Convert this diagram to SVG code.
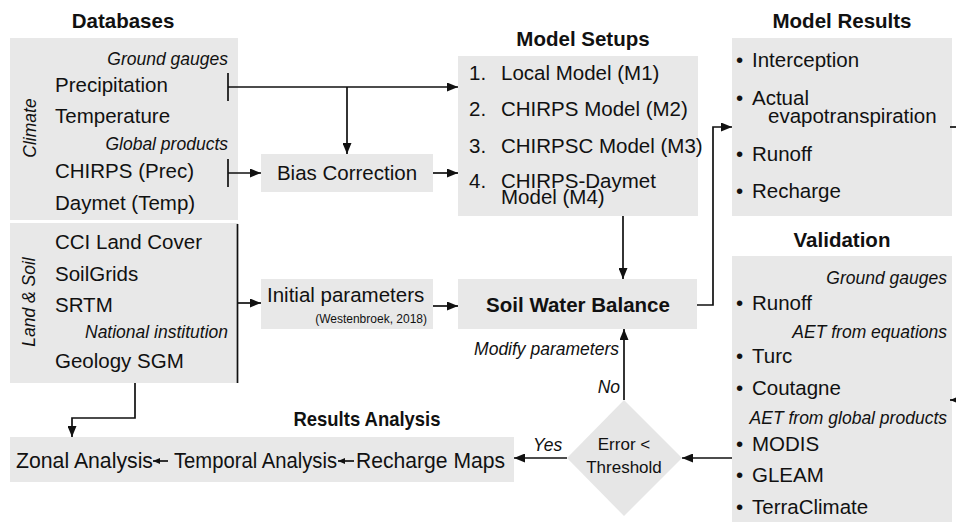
<svg xmlns="http://www.w3.org/2000/svg" width="956" height="524" viewBox="0 0 956 524">
<defs>
<marker id="ah" markerUnits="userSpaceOnUse" markerWidth="11" markerHeight="9" refX="11" refY="4.5" orient="auto"><path d="M0,0 L11,4.5 L0,9 z" fill="#111"/></marker>
<marker id="ahs" markerUnits="userSpaceOnUse" markerWidth="7" markerHeight="6" refX="7" refY="3" orient="auto"><path d="M0,0 L7,3 L0,6 z" fill="#111"/></marker>
<style>
.box{fill:#e8e8e8}
.t{font-family:"Liberation Sans",Arial,sans-serif;font-size:20.5px;fill:#111}
.i{font-family:"Liberation Sans",Arial,sans-serif;font-size:17.5px;font-style:italic;fill:#111}
.h{font-family:"Liberation Sans",Arial,sans-serif;font-size:20.5px;font-weight:bold;fill:#111}
.c{stroke:#111;stroke-width:1.7;fill:none}
.m{text-anchor:middle}
.e{text-anchor:end}
</style>
</defs>

<g id="databases">
<text class="h m" x="123" y="28">Databases</text>
</g>
<g id="climate">
<rect class="box" x="10" y="38" width="228" height="182"/>
<text class="i m" transform="translate(36,128) rotate(-90)">Climate</text>
<text class="i e" x="228" y="65">Ground gauges</text>
<text class="t" x="55" y="92">Precipitation</text>
<text class="t" x="55" y="123">Temperature</text>
<text class="i e" x="228" y="150">Global products</text>
<text class="t" x="55" y="178">CHIRPS (Prec)</text>
<text class="t" x="55" y="210">Daymet (Temp)</text>
</g>
<g id="landsoil">
<rect class="box" x="10" y="223" width="228" height="160"/>
<text class="i m" transform="translate(35,302) rotate(-90)">Land &amp; Soil</text>
<text class="t" x="55" y="249">CCI Land Cover</text>
<text class="t" x="55" y="281">SoilGrids</text>
<text class="t" x="55" y="312">SRTM</text>
<text class="i e" x="228" y="338">National institution</text>
<text class="t" x="55" y="368">Geology SGM</text>
</g>
<g id="bias">
<rect class="box" x="261" y="154" width="172" height="38"/>
<text class="t m" x="347" y="180">Bias Correction</text>
</g>
<g id="initial">
<rect class="box" x="261" y="279" width="172" height="50"/>
<text class="t" x="267" y="302">Initial parameters</text>
<text class="e" x="427" y="323" style="font-family:'Liberation Sans',Arial,sans-serif;font-size:12px;fill:#111">(Westenbroek, 2018)</text>
</g>
<g id="setups">
<text class="h m" x="583" y="46">Model Setups</text>
<rect class="box" x="458" y="56" width="240" height="160"/>
<text class="t" x="469" y="80">1.</text><text class="t" x="501" y="80">Local Model (M1)</text>
<text class="t" x="469" y="116">2.</text><text class="t" x="501" y="116">CHIRPS Model (M2)</text>
<text class="t" x="469" y="153">3.</text><text class="t" x="501" y="153">CHIRPSC Model (M3)</text>
<text class="t" x="469" y="188">4.</text><text class="t" x="501" y="188">CHIRPS-Daymet</text>
<text class="t" x="501" y="204">Model (M4)</text>
</g>
<g id="swb">
<rect class="box" x="458" y="279" width="239" height="50"/>
<text class="h m" x="578" y="312">Soil Water Balance</text>
</g>
<g id="results">
<text class="h m" x="842" y="28">Model Results</text>
<rect class="box" x="732" y="38" width="220" height="178"/>
<text class="t" x="736" y="67">•</text><text class="t" x="752" y="67">Interception</text>
<text class="t" x="736" y="105">•</text><text class="t" x="752" y="105">Actual</text>
<text class="t" x="768" y="123">evapotranspiration</text>
<text class="t" x="736" y="161">•</text><text class="t" x="752" y="161">Runoff</text>
<text class="t" x="736" y="198">•</text><text class="t" x="752" y="198">Recharge</text>
</g>
<g id="validation">
<text class="h m" x="842" y="247">Validation</text>
<rect class="box" x="732" y="256" width="220" height="266"/>
<text class="i e" x="947" y="284">Ground gauges</text>
<text class="t" x="736" y="310">•</text><text class="t" x="752" y="310">Runoff</text>
<text class="i e" x="947" y="338">AET from equations</text>
<text class="t" x="736" y="363">•</text><text class="t" x="752" y="363">Turc</text>
<text class="t" x="736" y="395">•</text><text class="t" x="752" y="395">Coutagne</text>
<text class="i e" x="947" y="424">AET from global products</text>
<text class="t" x="736" y="451">•</text><text class="t" x="752" y="451">MODIS</text>
<text class="t" x="736" y="482">•</text><text class="t" x="752" y="482">GLEAM</text>
<text class="t" x="736" y="514">•</text><text class="t" x="752" y="514">TerraClimate</text>
</g>
<g id="decision">
<polygon points="624,400 682,458 624,516 567,458" fill="#e6e6e6"/>
<text class="m" x="624" y="450" style="font-family:'Liberation Sans',Arial,sans-serif;font-size:17px;fill:#111">Error &lt;</text>
<text class="m" x="624" y="473" style="font-family:'Liberation Sans',Arial,sans-serif;font-size:17px;fill:#111">Threshold</text>
</g>
<g id="analysis">
<text class="h m" x="367" y="426" style="font-size:21px" textLength="147" lengthAdjust="spacingAndGlyphs">Results Analysis</text>
<rect class="box" x="10" y="437" width="504" height="45"/>
<text class="t" x="16" y="468" style="font-size:22px" textLength="137" lengthAdjust="spacingAndGlyphs">Zonal Analysis</text>
<text class="t" x="174" y="468" style="font-size:22px" textLength="163" lengthAdjust="spacingAndGlyphs">Temporal Analysis</text>
<text class="t" x="356" y="468" style="font-size:22px" textLength="149" lengthAdjust="spacingAndGlyphs">Recharge Maps</text>
</g>

<g id="connectors">
<line class="c" x1="228" y1="73" x2="228" y2="101"/>
<line class="c" x1="228" y1="87" x2="458" y2="87" marker-end="url(#ah)"/>
<line class="c" x1="347" y1="87" x2="347" y2="154" marker-end="url(#ah)"/>
<line class="c" x1="228" y1="159" x2="228" y2="187"/>
<line class="c" x1="228" y1="173" x2="261" y2="173" marker-end="url(#ah)"/>
<line class="c" x1="433" y1="173" x2="458" y2="173" marker-end="url(#ah)"/>
<line class="c" x1="237.5" y1="224" x2="237.5" y2="383"/>
<line class="c" x1="238" y1="303" x2="261" y2="303" marker-end="url(#ah)"/>
<line class="c" x1="433" y1="306" x2="458" y2="306" marker-end="url(#ah)"/>
<line class="c" x1="623" y1="216" x2="623" y2="279" marker-end="url(#ah)"/>
<polyline class="c" points="697,305 713,305 713,127 732,127" marker-end="url(#ah)"/>
<line class="c" x1="950" y1="127" x2="956" y2="127"/>
<line class="c" x1="958" y1="400" x2="950" y2="400" marker-end="url(#ahs)"/>
<line class="c" x1="732" y1="458" x2="682" y2="458" marker-end="url(#ah)"/>
<line class="c" x1="624" y1="400" x2="624" y2="329" marker-end="url(#ah)"/>
<text class="i e" x="619" y="355">Modify parameters</text>
<text class="i e" x="620" y="393">No</text>
<line class="c" x1="567" y1="458" x2="514" y2="458" marker-end="url(#ah)"/>
<text class="i" x="533" y="451">Yes</text>
<polyline class="c" points="135,383 135,418 72,418 72,437" marker-end="url(#ah)"/>
<line class="c" x1="168" y1="461" x2="153" y2="461" marker-end="url(#ahs)"/>
<line class="c" x1="354" y1="461" x2="338" y2="461" marker-end="url(#ahs)"/>
</g>
</svg>
